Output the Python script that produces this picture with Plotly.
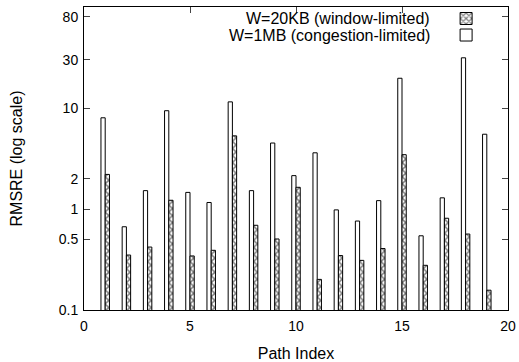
import plotly.graph_objects as go

path_index = list(range(1, 20))
rmsre_20kb = [2.2, 0.35, 0.42, 1.22, 0.343, 0.39, 5.3, 0.69, 0.505, 1.64,
              0.201, 0.346, 0.31, 0.406, 3.45, 0.277, 0.81, 0.565, 0.157]
rmsre_1mb = [8.0, 0.667, 1.52, 9.4, 1.46, 1.16, 11.5, 1.52, 4.5, 2.14,
             3.6, 0.98, 0.76, 1.21, 19.7, 0.543, 1.29, 31.4, 5.5]
y_tickvals = [0.1, 0.5, 1, 2, 10, 30, 80]
y_ticktext = ["0.1", "0.5", "1", "2", "10", "30", "80"]
x_tickvals = [0, 5, 10, 15, 20]

name_20kb = "W=20KB (window-limited)"
name_1mb = "W=1MB (congestion-limited)"

FONT = "Liberation Sans, Arial, sans-serif"

fig = go.Figure()
fig.add_trace(go.Bar(
    x=path_index, y=rmsre_1mb, name=" ", legend="legend2",
    marker=dict(color="white", line=dict(color="black", width=1)),
))
fig.add_trace(go.Bar(
    x=path_index, y=rmsre_20kb, name=" ", legend="legend",
    marker=dict(color="white", line=dict(color="black", width=1),
                pattern=dict(shape="x", fgcolor="black", bgcolor="white",
                             size=5, solidity=0.5)),
))

legend_common = dict(xanchor="left", yanchor="middle", bgcolor="rgba(0,0,0,0)",
                     font=dict(size=8), itemwidth=30)

fig.update_layout(
    width=519, height=362,
    margin=dict(l=84, r=11, t=4, b=52),
    plot_bgcolor="white", paper_bgcolor="white",
    barmode="group", bargap=0.6, bargroupgap=0,
    font=dict(family=FONT, size=14, color="black"),
    showlegend=True,
    legend=dict(x=0.854, y=0.962, **legend_common),
    legend2=dict(x=0.854, y=0.9075, **legend_common),
    xaxis=dict(range=[0, 20], tickvals=x_tickvals, ticks="inside", ticklen=6,
               showline=True, linecolor="black", linewidth=1, mirror="ticks",
               showgrid=False, zeroline=False, automargin=False,
               tickfont=dict(size=14), ticklabelstandoff=3,
               title=dict(text="Path Index", font=dict(size=16), standoff=15)),
    yaxis=dict(type="log", range=[-1, 2], tickvals=y_tickvals, ticktext=y_ticktext,
               ticks="inside", ticklen=6,
               showline=True, linecolor="black", linewidth=1, mirror="ticks",
               showgrid=False, zeroline=False, automargin=False,
               tickfont=dict(size=14), ticklabelstandoff=2,
               title=dict(text="RMSRE (log scale)", font=dict(size=16), standoff=32)),
)

fig.add_annotation(xref="paper", yref="paper", x=0.82, y=0.962, xanchor="right",
                   yanchor="middle", text=name_20kb, showarrow=False,
                   font=dict(size=16))
fig.add_annotation(xref="paper", yref="paper", x=0.82, y=0.9075, xanchor="right",
                   yanchor="middle", text=name_1mb, showarrow=False,
                   font=dict(size=16))

fig.write_html("out.html", config={"displayModeBar": False},
               post_script="document.body.style.margin='0';")
